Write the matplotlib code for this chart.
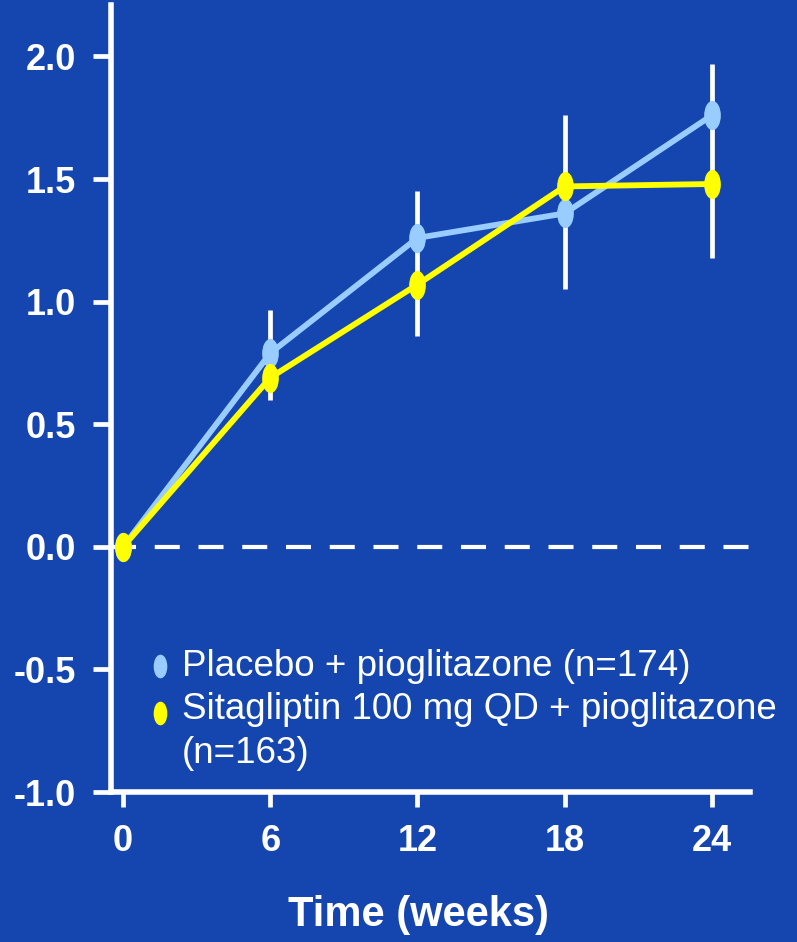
import matplotlib
matplotlib.use("Agg")
import matplotlib.pyplot as plt
import numpy as np
from matplotlib.path import Path

# mean change from baseline at each visit
weeks = [0, 6, 12, 18, 24]
placebo = [0.0, 0.79, 1.26, 1.36, 1.76]
sitagliptin = [0.0, 0.69, 1.07, 1.47, 1.48]
# vertical error bars (low, high) per visit
err_low = [None, 0.60, 0.86, 1.05, 1.18]
err_high = [None, 0.965, 1.45, 1.76, 1.97]

yticks = [-1.0, -0.5, 0.0, 0.5, 1.0, 1.5, 2.0]
ytick_labels = ["-1.0", "-0.5", "0.0", "0.5", "1.0", "1.5", "2.0"]
xtick_labels = ["0", "6", "12", "18", "24"]

label_placebo = "Placebo + pioglitazone (n=174)"
label_sita = "Sitagliptin 100 mg QD + pioglitazone\n(n=163)"

bg = "#1546B0"
c_placebo = "#99CCFF"
c_sita = "#FFFF00"

plt.rcParams["font.family"] = ["Liberation Sans", "DejaVu Sans"]

# tall ellipse marker
circ = Path.unit_circle()
ellipse = Path(circ.vertices * np.array([0.55, 1.0]), circ.codes)

fig = plt.figure(figsize=(7.97, 9.42), dpi=100, facecolor=bg)
ax = fig.add_axes([0.1393, 0.1592, 0.941 - 0.1393, 0.9947 - 0.1592])
ax.set_facecolor(bg)

# zero reference line
ax.axhline(0, color="white", lw=3, dashes=(6, 4.5), zorder=1)

# error bars, drawn behind the series
ex = [w for w, lo in zip(weeks, err_low) if lo is not None]
elo = [lo for lo in err_low if lo is not None]
ehi = [hi for hi in err_high if hi is not None]
ax.vlines(ex, elo, ehi, colors="white", lw=3.4, zorder=2)

ax.plot(weeks, placebo, color=c_placebo, lw=4.2, marker=ellipse,
        markersize=20, zorder=3)
ax.plot(weeks, sitagliptin, color=c_sita, lw=4.2, marker=ellipse,
        markersize=20, zorder=4)

ax.set_xlim(-0.49, 25.55)
ax.set_ylim(-1.0, 2.21)
ax.set_xticks(weeks)
ax.set_xticklabels(xtick_labels)
ax.set_yticks(yticks)
ax.set_yticklabels(ytick_labels)

for side in ["top", "right"]:
    ax.spines[side].set_visible(False)
for side in ["left", "bottom"]:
    ax.spines[side].set_color("white")
    ax.spines[side].set_linewidth(4)

ax.tick_params(axis="both", colors="white", width=3.4, labelsize=26)
ax.tick_params(axis="y", length=13, pad=12)
ax.tick_params(axis="x", length=11, pad=12)
for lab in ax.get_xticklabels() + ax.get_yticklabels():
    lab.set_fontweight("bold")

fig.text(419 / 797, 1 - 915 / 942, "Time (weeks)", color="white",
         fontsize=30, fontweight="bold", ha="center", va="center")

# legend, placed by hand
ax.plot([0.0767], [0.160], transform=ax.transAxes, marker=ellipse,
        markersize=16, color=c_placebo, ls="none", clip_on=False)
ax.text(0.111, 0.160, label_placebo, transform=ax.transAxes,
        color="white", fontsize=26.5, va="center", ha="left")
ax.plot([0.0767], [0.1005], transform=ax.transAxes, marker=ellipse,
        markersize=16, color=c_sita, ls="none", clip_on=False)
ax.text(0.111, 0.077, label_sita, transform=ax.transAxes,
        color="white", fontsize=26.5, va="center", ha="left",
        linespacing=1.35)

fig.savefig("out.png", dpi=100, facecolor=bg)
